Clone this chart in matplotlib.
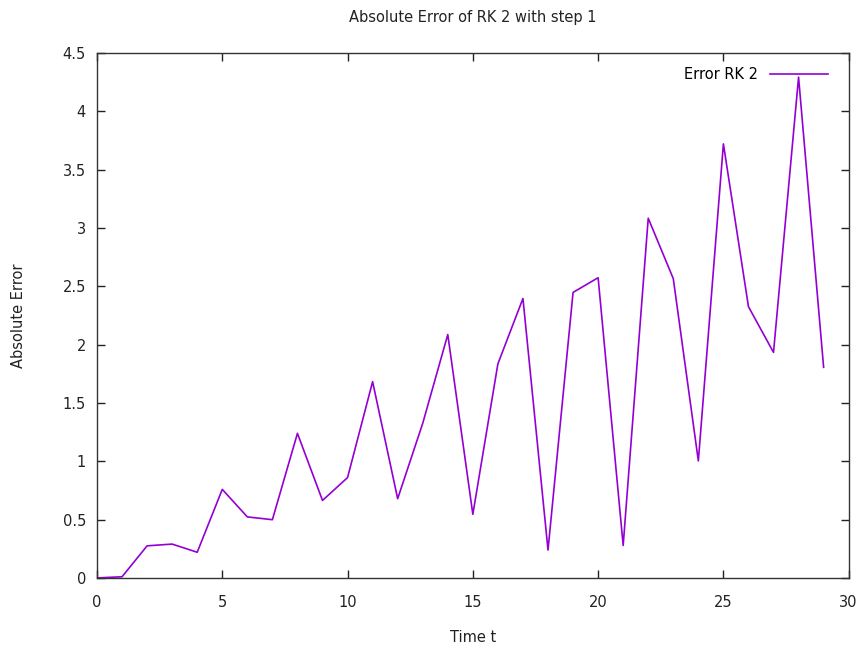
import matplotlib
matplotlib.use("Agg")
import matplotlib.pyplot as plt

# Absolute error of RK2 with step 1
t = list(range(30))
error = [0.0, 0.01, 0.275, 0.29, 0.22, 0.759, 0.523, 0.499, 1.239, 0.664,
         0.86, 1.682, 0.679, 1.325, 2.086, 0.545, 1.835, 2.395, 0.239, 2.447,
         2.573, 0.278, 3.083, 2.565, 1.003, 3.72, 2.325, 1.933, 4.292, 1.805]

x_ticks = [0, 5, 10, 15, 20, 25, 30]
y_ticks = [0, 0.5, 1, 1.5, 2, 2.5, 3, 3.5, 4, 4.5]
y_tick_labels = ["0", "0.5", "1", "1.5", "2", "2.5", "3", "3.5", "4", "4.5"]

plt.rcParams["font.family"] = ["DejaVu Sans"]
plt.rcParams["font.size"] = 10

fig = plt.figure(figsize=(8.66, 6.45), dpi=100)
ax = fig.add_axes([0.112, 0.104, 0.868, 0.814])

ax.plot(t, error, color="#9400D3", linewidth=1.2, label="Error RK 2")

ax.set_xlim(0, 30)
ax.set_ylim(0, 4.5)
ax.set_xticks(x_ticks)
ax.set_yticks(y_ticks)
ax.set_yticklabels(y_tick_labels)
ax.tick_params(direction="in", top=True, right=True, length=6, width=1,
               labelsize=10.5, colors="#222222")
ax.tick_params(axis="x", pad=12)
ax.tick_params(axis="y", pad=8)
for side in ax.spines.values():
    side.set_linewidth(1)
    side.set_color("#333333")

ax.set_title("Absolute Error of RK 2 with step 1", fontsize=10.5, pad=22, color="#222222")
ax.set_xlabel("Time t", fontsize=10.5, labelpad=15, color="#222222")
ax.set_ylabel("Absolute Error", fontsize=10.5, labelpad=26, color="#222222")

ax.legend(loc="upper right", frameon=False, markerfirst=False, handlelength=4.0,
          fontsize=10.5, borderaxespad=0.6, bbox_to_anchor=(0.992, 1.0))

fig.savefig("out.png", dpi=100)
